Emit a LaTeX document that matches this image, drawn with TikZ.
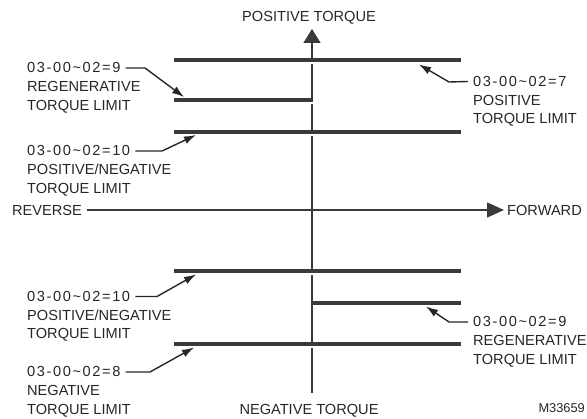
\documentclass[tikz,border=0pt]{standalone}
\usepackage{fontspec}
\setmainfont{Liberation Sans}
\newfontfamily\codefont[LetterSpace=11]{Liberation Sans}
\usetikzlibrary{arrows.meta}
\definecolor{ink}{HTML}{3A3A3A}
\definecolor{txt}{HTML}{262626}
\newcommand{\pcode}[1]{03-00\textasciitilde 02=#1}
\begin{document}
\begin{tikzpicture}[x=1pt,y=-1pt,
  lbl/.style={anchor=base west,inner sep=0pt,text=txt,font=\fontsize{14.6}{18}\selectfont},
  code/.style={anchor=base west,inner sep=0pt,text=txt,font=\fontsize{14.6}{18}\codefont},
  limit/.style={draw=ink,line width=3.2pt},
  axis/.style={draw=ink,line width=1.6pt},
  leader/.style={draw=txt,line width=1.4pt,-{Latex[length=12pt,width=8pt]}},
  gap/.style={fill=white,draw=none}]
\useasboundingbox (0,0) rectangle (587,419);

% axes
\node[lbl,anchor=base] (pt) at (309,22) {POSITIVE TORQUE};
\node[lbl,anchor=base] (nt) at (309,415) {NEGATIVE TORQUE};
\node[lbl] (rev) at (12,215.5) {REVERSE};
\node[lbl] (fwd) at (507,215.5) {FORWARD};
\coordinate (vtop) at (312,29);
\coordinate (vbot) at (312,393);
\coordinate (htip) at (504,210);
\draw[axis,-{Triangle[length=14pt,width=17pt]}] (vbot) -- (vtop);
\draw[axis,-{Triangle[length=17pt,width=15pt]}] ([xshift=5pt]rev.east |- htip) -- (htip);

% limit lines, upper half
\draw[limit] (174,60) -- (461,60);
\draw[limit] (174,100) -- (313,100);
\draw[limit] (174,132) -- (461,132);
% limit lines, lower half
\draw[limit] (174,271) -- (461,271);
\draw[limit] (311,303) -- (461,303);
\draw[limit] (174,344) -- (461,344);

% small breaks in the vertical axis under each limit line
\foreach \y in {60,100,132,271,344}
  \fill[gap] (310.5,\y+1.7) rectangle (313.5,\y+4.3);

% upper left: regenerative limit
\node[code] (c1) at (27,73) {\pcode{9}};
\node[lbl] (c1b) at (27,91.7) {REGENERATIVE};
\node[lbl] (c1c) at (27,110.4) {TORQUE LIMIT};
\coordinate (c1k) at (145,68);
\coordinate (c1t) at (184,97);
\draw[leader] ([xshift=5pt]c1.east) -- (c1k) -- (c1t);

% upper left: positive/negative limit
\node[code] (c2) at (27,156) {\pcode{10}};
\node[lbl] (c2b) at (27,174.7) {POSITIVE/NEGATIVE};
\node[lbl] (c2c) at (27,193.4) {TORQUE LIMIT};
\coordinate (c2k) at (162,151);
\coordinate (c2t) at (196,135);
\draw[leader] ([xshift=5pt]c2.east) -- (c2k) -- (c2t);

% upper right: positive limit
\node[code] (c3) at (473,86.5) {\pcode{7}};
\node[lbl] (c3b) at (473,105.2) {POSITIVE};
\node[lbl] (c3c) at (473,123.9) {TORQUE LIMIT};
\coordinate (c3k) at (449,82);
\coordinate (c3t) at (419,64.5);
\draw[leader] ([xshift=-5pt]c3.west) -- (c3k) -- (c3t);

% lower left: positive/negative limit
\node[code] (c4) at (27,301.5) {\pcode{10}};
\node[lbl] (c4b) at (27,320.2) {POSITIVE/NEGATIVE};
\node[lbl] (c4c) at (27,338.9) {TORQUE LIMIT};
\coordinate (c4k) at (157,296.5);
\coordinate (c4t) at (196,274.5);
\draw[leader] ([xshift=5pt]c4.east) -- (c4k) -- (c4t);

% lower left: negative limit
\node[code] (c5) at (27,377) {\pcode{8}};
\node[lbl] (c5b) at (27,395.7) {NEGATIVE};
\node[lbl] (c5c) at (27,414.4) {TORQUE LIMIT};
\coordinate (c5k) at (150,372);
\coordinate (c5t) at (194,347.5);
\draw[leader] ([xshift=5pt]c5.east) -- (c5k) -- (c5t);

% lower right: regenerative limit
\node[code] (c6) at (473,327) {\pcode{9}};
\node[lbl] (c6b) at (473,345.7) {REGENERATIVE};
\node[lbl] (c6c) at (473,364.4) {TORQUE LIMIT};
\coordinate (c6k) at (449,322);
\coordinate (c6t) at (426,306.5);
\draw[leader] ([xshift=-5pt]c6.west) -- (c6k) -- (c6t);

% drawing number
\node[anchor=base east,inner sep=0pt,text=txt,font=\fontsize{12.8}{15}\selectfont] (ref) at (585,413) {M33659};
\end{tikzpicture}
\end{document}
